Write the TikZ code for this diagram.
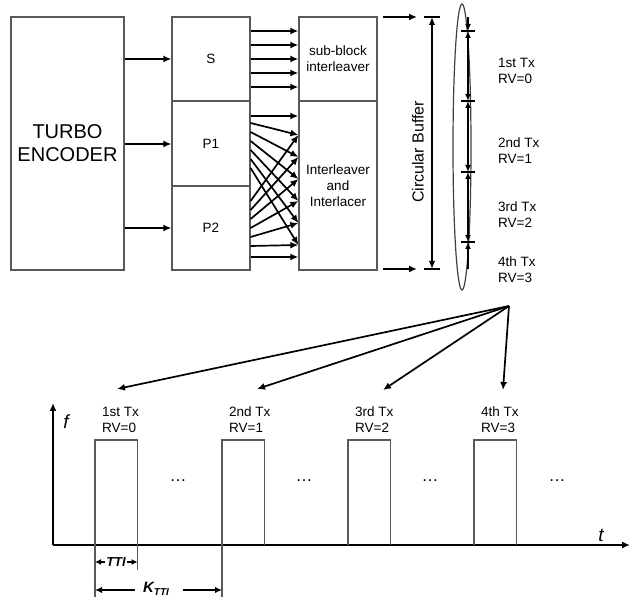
\documentclass[tikz,border=0pt]{standalone}
\usepackage{fontspec}
\setmainfont{Liberation Sans}
\usetikzlibrary{arrows.meta,calc}
\begin{document}
\begin{tikzpicture}[x=1pt,y=-1pt,
  box/.style={draw=black!65,line width=1.2pt,rectangle,inner sep=0pt,font=\fontsize{13.5}{16}\selectfont,align=center},
  arr/.style={line width=1.7pt,-{Latex[length=8pt,width=7pt]}},
  darr/.style={line width=1.5pt,{Latex[length=8pt,width=6.5pt]}-{Latex[length=8pt,width=6.5pt]}},
  sarr/.style={line width=1.4pt,{Latex[length=7pt,width=6pt]}-{Latex[length=7pt,width=6pt]}},
  thin/.style={draw=black!65,line width=1.2pt},
  lbl/.style={font=\fontsize{13.5}{16}\selectfont,align=left,anchor=west,inner sep=0pt},
  axis/.style={line width=2.2pt,-{Latex[length=8pt,width=7pt]}}]
\useasboundingbox (0,0) rectangle (630,601);
% boxes
\node[box,minimum width=113pt,minimum height=253pt,font=\fontsize{20}{23}\selectfont] (enc) at (67.5,143.5) {TURBO\\ENCODER};
\node[box,minimum width=78pt,minimum height=84pt] (S) at (211,59) {S};
\node[box,minimum width=78pt,minimum height=85pt] (P1) at (211,143.5) {P1};
\node[box,minimum width=78pt,minimum height=84pt] (P2) at (211,228) {P2};
\node[box,minimum width=78pt,minimum height=84pt] (SB) at (338,59) {sub-block\\interleaver};
\node[box,minimum width=78pt,minimum height=169pt] (IL) at (338,185.5) {Interleaver\\and\\Interlacer};
% encoder to S,P1,P2
\draw[arr] (enc.east |- S.west) -- (S.west);
\draw[arr] (enc.east |- 0,144) -- (P1.west |- 0,144);
\draw[arr] (enc.east |- P2.west) -- (P2.west);
% S to sub-block
\foreach \y in {31,45,59,73,87} \draw[arr] (S.east |- 0,\y) -- (SB.west |- 0,\y);
% P to interleaver
\draw[arr] (P1.east |- 0,116) -- (IL.west |- 0,116);
\draw[arr] (P2.east |- 0,257) -- (IL.west |- 0,257);
\foreach \i in {0,...,5}{
  \draw[arr] (P1.east |- 0,{123+9*\i}) -- (IL.west |- 0,{135+22*\i});
  \draw[arr] (P2.east |- 0,{201+9*\i}) -- (IL.west |- 0,{135+22*\i});
}
% circular buffer
\coordinate (cbt) at (432,17);
\coordinate (cbb) at (432,269);
\draw[arr] (383,17) -- (417,17);
\draw[arr] (383,269) -- (417,269);
\draw[darr] (cbt) -- (cbb);
\draw[line width=1.2pt] ($(cbt)+(-8,0)$) -- ($(cbt)+(8,0)$);
\draw[line width=1.2pt] ($(cbb)+(-8,0)$) -- ($(cbb)+(8,0)$);
\node[rotate=90,font=\fontsize{16}{18}\selectfont] (cbl) at (418,152) {Circular Buffer};
% ellipse
\draw[line width=1.2pt,black!75] (462,147) ellipse [x radius=9, y radius=143];
% segments
\coordinate (k0) at (468,17);
\coordinate (k1) at (468,31);
\coordinate (k2) at (468,101);
\coordinate (k3) at (468,172);
\coordinate (k4) at (468,242);
\coordinate (k5) at (468,269);
\draw[line width=1.4pt,-{Latex[length=7pt,width=6pt]}] (k0) -- (k1);
\draw[sarr] (k1) -- (k2);
\draw[sarr] (k2) -- (k3);
\draw[sarr] (k3) -- (k4);
\draw[line width=1.4pt,{Latex[length=7pt,width=6pt]}-] (k4) -- (k5);
\foreach \k in {k1,k2,k3,k4} \draw[line width=1.1pt] ($(\k)+(-7,0)$) -- ($(\k)+(7,0)$);
\node[lbl] (r1) at (498,71) {1st Tx\\RV=0};
\node[lbl] (r2) at (498,151) {2nd Tx\\RV=1};
\node[lbl] (r3) at (498,215) {3rd Tx\\RV=2};
\node[lbl] (r4) at (498,270) {4th Tx\\RV=3};
% fan
\coordinate (fo) at (509,306);
\coordinate (t1) at (117,389);
\coordinate (t2) at (257,389);
\coordinate (t3) at (383,390);
\coordinate (t4) at (503,390);
\foreach \t in {t1,t2,t3,t4} \draw[arr] (fo) -- (\t);
% plot
\coordinate (O) at (53,545);
\draw[axis] (O) -- (53,403);
\draw[axis] (O) -- (630,545);
\node[font=\fontsize{19}{21}\selectfont\itshape] (fl) at (66,422) {f};
\node[font=\fontsize{19}{21}\selectfont\itshape] (tl) at (601,535) {t};
\foreach \x/\n/\r in {95/1st/0,222/2nd/1,348/3rd/2,474/4th/3}{
  \draw[thin] (\x,545) -- (\x,440) -- ({\x+42.5},440) -- ({\x+42.5},545);
  \node[lbl] at ({\x+7},420) {\n{} Tx\\RV=\r};
}
\foreach \x in {178,304,430,557} \node[font=\fontsize{17}{18}\selectfont] at (\x,481) {…};
% TTI
\draw[thin] (95,545) -- (95,597);
\draw[thin] (137.5,545) -- (137.5,570);
\draw[thin] (222,545) -- (222,597);
\node[font=\fontsize{13}{15}\selectfont\bfseries\itshape,inner sep=1pt] (tti) at (116,562) {TTI};
\draw[line width=1.3pt,-{Latex[length=6pt,width=6pt]}] (tti.west) -- (95,562);
\draw[line width=1.3pt,-{Latex[length=6pt,width=6pt]}] (tti.east) -- (137.5,562);
\node[font=\fontsize{15}{17}\selectfont\bfseries\itshape,inner sep=0pt] (ktti) at (156,589) {K\raisebox{-0.4ex}{\fontsize{10}{12}\selectfont TTI}};
\draw[line width=1.6pt,-{Latex[length=7pt,width=6.5pt]}] (135,590) -- (95,590);
\draw[line width=1.6pt,-{Latex[length=7pt,width=6.5pt]}] (183,590) -- (222,590);
\end{tikzpicture}
\end{document}
